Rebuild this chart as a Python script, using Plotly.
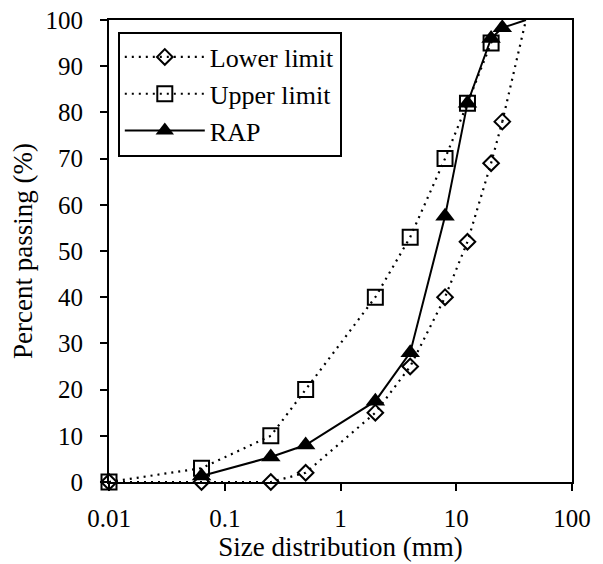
import plotly.graph_objects as go

# Sieve sizes (mm) and percent passing
lower_x = [0.01, 0.063, 0.25, 0.5, 2, 4, 8, 12.5, 20, 25]
lower_y = [0, 0, 0, 2, 15, 25, 40, 52, 69, 78]
lower_end_x = [25, 40]
lower_end_y = [78, 100]

upper_x = [0.01, 0.063, 0.25, 0.5, 2, 4, 8, 12.5, 20]
upper_y = [0, 3, 10, 20, 40, 53, 70, 82, 95]
upper_end_x = [20, 25]
upper_end_y = [95, 100]

rap_x = [0.063, 0.25, 0.5, 2, 4, 8, 12.5, 20, 25]
rap_y = [1.3, 5.4, 8, 17.5, 28, 57.5, 82, 96, 98.3]
rap_end_x = [25, 40]
rap_end_y = [98.3, 100]

x_tickvals = [0.01, 0.1, 1, 10, 100]
x_ticktext = ["0.01", "0.1", "1", "10", "100"]

FONT = "Liberation Serif"
DOT = "2px,5px"

fig = go.Figure()

# extensions (line only, no markers)
fig.add_trace(go.Scatter(x=lower_end_x, y=lower_end_y, mode="lines", showlegend=False,
                         line=dict(color="black", width=2.2, dash=DOT), hoverinfo="skip"))
fig.add_trace(go.Scatter(x=upper_end_x, y=upper_end_y, mode="lines", showlegend=False,
                         line=dict(color="black", width=2.2, dash=DOT), hoverinfo="skip"))
fig.add_trace(go.Scatter(x=rap_end_x, y=rap_end_y, mode="lines", showlegend=False,
                         line=dict(color="black", width=2), hoverinfo="skip"))

fig.add_trace(go.Scatter(
    x=lower_x, y=lower_y, mode="lines+markers", name="Lower limit",
    line=dict(color="black", width=2.2, dash=DOT),
    marker=dict(symbol="diamond-open", size=12, color="black", line=dict(width=2, color="black")),
    cliponaxis=False))
fig.add_trace(go.Scatter(
    x=upper_x, y=upper_y, mode="lines+markers", name="Upper limit",
    line=dict(color="black", width=2.2, dash=DOT),
    marker=dict(symbol="square-open", size=15, color="black", line=dict(width=2, color="black")),
    cliponaxis=False))
fig.add_trace(go.Scatter(
    x=rap_x, y=rap_y, mode="lines+markers", name="RAP",
    line=dict(color="black", width=2),
    marker=dict(symbol="triangle-up", size=17, color="black", line=dict(width=0)),
    cliponaxis=False))

axis_common = dict(showline=True, linecolor="black", linewidth=2, mirror=True,
                   ticks="outside", ticklen=7, tickwidth=2, tickcolor="black",
                   showgrid=False, zeroline=False, ticklabeloverflow="allow",
                   tickfont=dict(family=FONT, size=25, color="black"))

fig.update_xaxes(type="log", range=[-2, 2], tickvals=x_tickvals, ticktext=x_ticktext,
                 ticklabelstandoff=6,
                 title=dict(text="Size distribution (mm)", font=dict(family=FONT, size=27, color="black"),
                            standoff=0),
                 **axis_common)
fig.update_yaxes(range=[0, 100], dtick=10, ticklabelstandoff=12,
                 title=dict(text="Percent passing (%)", font=dict(family=FONT, size=27, color="black"),
                            standoff=14),
                 **axis_common)

fig.update_layout(
    width=603, height=564,
    margin=dict(l=101, r=39, t=12, b=90, autoexpand=False),
    paper_bgcolor="white", plot_bgcolor="white",
    showlegend=True,
    legend=dict(x=0.019, y=0.975, xanchor="left", yanchor="top",
                bordercolor="black", borderwidth=2, bgcolor="white",
                font=dict(family=FONT, size=26, color="black"),
                itemwidth=80, tracegroupgap=0),
)

fig.write_html("out.html")
